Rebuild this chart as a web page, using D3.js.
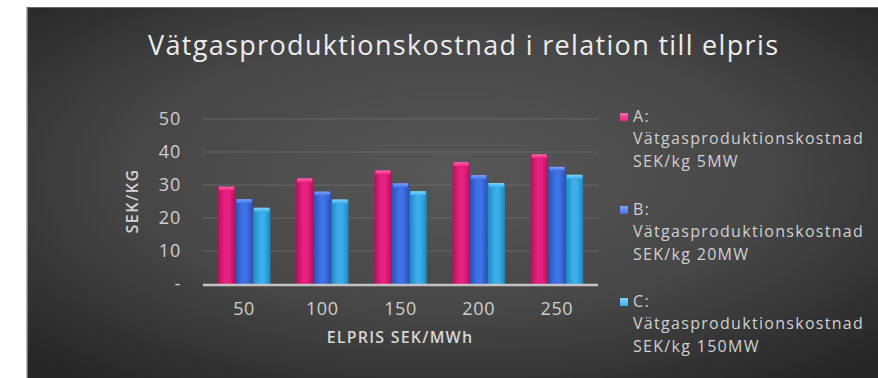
<!DOCTYPE html>
<html>
<head>
<meta charset="utf-8">
<script src="https://cdn.jsdelivr.net/npm/d3@7"></script>
<style>
  html, body { margin: 0; padding: 0; background: #ffffff; }
  svg { display: block; }
</style>
</head>
<body>
<svg id="chart" width="878" height="378"></svg>
<script>
// Hydrogen production cost per kg versus electricity price
const categories = ["50", "100", "150", "200", "250"];
const seriesA = [29.5, 32.0, 34.4, 36.9, 39.3];   // 5 MW
const seriesB = [25.7, 28.0, 30.5, 33.0, 35.5];   // 20 MW
const seriesC = [23.1, 25.6, 28.1, 30.6, 33.1];   // 150 MW
const seriesKeys = ["A", "B", "C"];
const seriesNames = [
  ["A:", "Vätgasproduktionskostnad", "SEK/kg 5MW"],
  ["B:", "Vätgasproduktionskostnad", "SEK/kg 20MW"],
  ["C:", "Vätgasproduktionskostnad", "SEK/kg 150MW"]
];
const yTicks = [0, 10, 20, 30, 40, 50];
const yTickLabels = ["-", "10", "20", "30", "40", "50"];
const titleText = "Vätgasproduktionskostnad i relation till elpris";
const xTitle = "ELPRIS SEK/MWh";
const yTitle = "SEK/KG";

const seriesValues = [seriesA, seriesB, seriesC];
const colors = {
  A: { dark: "#b5105c", mid: "#e8207f", light: "#f76aa9" },
  B: { dark: "#2a4fb8", mid: "#3f72e6", light: "#7ea4f5" },
  C: { dark: "#1f86bd", mid: "#3badea", light: "#86d3f6" }
};
const font = "Open Sans, sans-serif";

const svg = d3.select("#chart");
const defs = svg.append("defs");

// Panel background: soft radial light in the middle, dark at the edges
const bg = defs.append("radialGradient").attr("id", "bg")
  .attr("cx", "50%").attr("cy", "45%").attr("r", "70%");
bg.append("stop").attr("offset", "0%").attr("stop-color", "#575757");
bg.append("stop").attr("offset", "55%").attr("stop-color", "#464646");
bg.append("stop").attr("offset", "100%").attr("stop-color", "#262626");

// Bar shading: bright centre strip, darker sides, lighter top cap
seriesKeys.forEach(k => {
  const g = defs.append("linearGradient").attr("id", "bar" + k)
    .attr("x1", "0%").attr("x2", "100%").attr("y1", "0%").attr("y2", "0%");
  g.append("stop").attr("offset", "0%").attr("stop-color", colors[k].dark);
  g.append("stop").attr("offset", "40%").attr("stop-color", colors[k].mid);
  g.append("stop").attr("offset", "65%").attr("stop-color", colors[k].mid);
  g.append("stop").attr("offset", "100%").attr("stop-color", colors[k].dark);
  const c = defs.append("linearGradient").attr("id", "cap" + k)
    .attr("x1", "0%").attr("x2", "0%").attr("y1", "0%").attr("y2", "100%");
  c.append("stop").attr("offset", "0%").attr("stop-color", colors[k].light);
  c.append("stop").attr("offset", "100%").attr("stop-color", colors[k].mid);
});

svg.append("rect").attr("x", 27).attr("y", 7).attr("width", 851).attr("height", 371)
  .attr("fill", "url(#bg)");
svg.append("line").attr("x1", 27).attr("x2", 27).attr("y1", 7).attr("y2", 378)
  .attr("stroke", "#9a9a9a").attr("stroke-width", 1.5);
svg.append("line").attr("x1", 27).attr("x2", 878).attr("y1", 7.5).attr("y2", 7.5)
  .attr("stroke", "#6a6a6a").attr("stroke-width", 1);

// Title
svg.append("text")
  .attr("x", 463).attr("y", 55)
  .attr("text-anchor", "middle")
  .attr("font-family", font)
  .attr("font-size", 27)
  .attr("textLength", 630)
  .attr("lengthAdjust", "spacing")
  .attr("fill", "#ececec")
  .text(titleText);

// Scales
const x0 = d3.scaleBand().domain(categories).range([205, 596])
  .paddingInner(0.32).paddingOuter(0.16);
const x1 = d3.scaleBand().domain(seriesKeys).range([0, x0.bandwidth()]).padding(0.02);
const y = d3.scaleLinear().domain([0, 50]).range([284, 119]);

// Gridlines
svg.append("g").selectAll("line")
  .data(yTicks.filter(t => t > 0))
  .join("line")
  .attr("x1", 203).attr("x2", 598)
  .attr("y1", d => y(d)).attr("y2", d => y(d))
  .attr("stroke", "#6e6e6e").attr("stroke-width", 1).attr("opacity", 0.8);

// Y axis (labels only)
const yAxis = d3.axisLeft(y).tickValues(yTicks)
  .tickFormat((d, i) => yTickLabels[i]).tickSize(0).tickPadding(0);
const yG = svg.append("g").attr("transform", "translate(181,0)").call(yAxis);
yG.select(".domain").remove();
yG.selectAll("text")
  .attr("font-family", font).attr("font-size", 18).attr("letter-spacing", 0.8)
  .attr("fill", "#cfcfcf");

// Bars
const groups = svg.append("g").selectAll("g")
  .data(categories.map((c, i) => ({ c, vals: seriesKeys.map((k, j) => ({ k, v: seriesValues[j][i] })) })))
  .join("g")
  .attr("transform", d => `translate(${x0(d.c)},0)`);

groups.selectAll("rect.bar")
  .data(d => d.vals)
  .join("rect").attr("class", "bar")
  .attr("x", d => x1(d.k))
  .attr("y", d => y(d.v))
  .attr("width", x1.bandwidth())
  .attr("height", d => y(0) - y(d.v))
  .attr("fill", d => `url(#bar${d.k})`);

groups.selectAll("rect.cap")
  .data(d => d.vals)
  .join("rect").attr("class", "cap")
  .attr("x", d => x1(d.k) + 1)
  .attr("y", d => y(d.v))
  .attr("width", x1.bandwidth() - 2)
  .attr("height", 4)
  .attr("fill", d => `url(#cap${d.k})`);

// Baseline
svg.append("line").attr("x1", 203).attr("x2", 598)
  .attr("y1", y(0) + 1).attr("y2", y(0) + 1)
  .attr("stroke", "#c4c4c4").attr("stroke-width", 2.5);

// X axis labels
const xAxis = d3.axisBottom(x0).tickSize(0).tickPadding(0);
const xG = svg.append("g").attr("transform", `translate(0,${y(0) + 31})`).call(xAxis);
xG.select(".domain").remove();
xG.selectAll("text")
  .attr("dy", 0)
  .attr("font-family", font).attr("font-size", 18).attr("letter-spacing", 0.6)
  .attr("fill", "#cfcfcf");

// Axis titles
svg.append("text")
  .attr("x", 400).attr("y", 343).attr("text-anchor", "middle")
  .attr("font-family", font).attr("font-size", 16).attr("letter-spacing", 1.2)
  .attr("font-weight", 600).attr("fill", "#d6d6d6")
  .text(xTitle);
svg.append("text")
  .attr("transform", "translate(138,201) rotate(-90)")
  .attr("text-anchor", "middle")
  .attr("font-family", font).attr("font-size", 16).attr("letter-spacing", 1.5)
  .attr("font-weight", 600).attr("fill", "#d6d6d6")
  .text(yTitle);

// Legend
const legendTop = [122, 215, 307];
const legend = svg.append("g").selectAll("g")
  .data(seriesKeys)
  .join("g")
  .attr("transform", (d, i) => `translate(620,${legendTop[i]})`);
legend.append("rect")
  .attr("x", 0).attr("y", -9).attr("width", 8).attr("height", 8)
  .attr("fill", d => `url(#cap${d})`);
legend.each(function (d, i) {
  const t = d3.select(this).append("text")
    .attr("x", 13).attr("y", 0)
    .attr("font-family", font).attr("font-size", 16).attr("letter-spacing", 1.3)
    .attr("fill", "#d0d0d0");
  t.selectAll("tspan").data(seriesNames[i]).join("tspan")
    .attr("x", 13).attr("dy", (s, j) => j === 0 ? 0 : 22.3)
    .text(s => s);
});
</script>
</body>
</html>
